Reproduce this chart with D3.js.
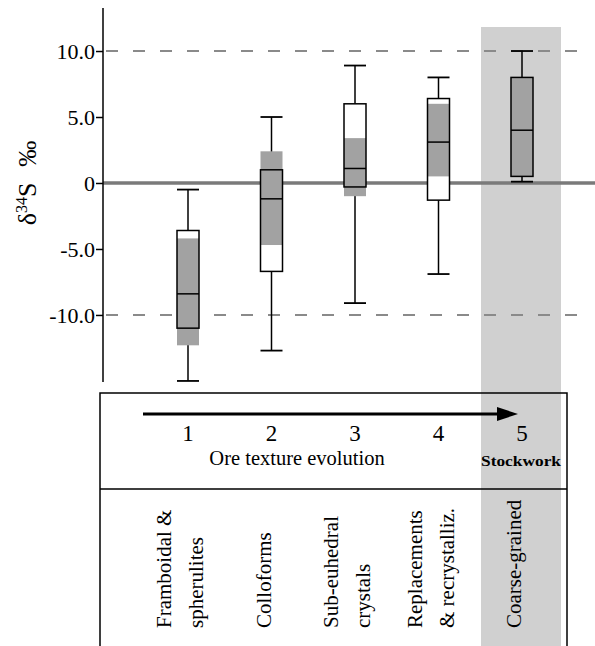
<!DOCTYPE html>
<html>
<head>
<meta charset="utf-8">
<style>
  body { margin: 0; background: #fff; }
  svg text { font-family: "Liberation Serif", "DejaVu Serif", serif; fill: #000; }
</style>
</head>
<body>
<svg class="chart"></svg>
<script src="https://cdn.jsdelivr.net/npm/d3@7/dist/d3.min.js"></script>
<script>
// ore texture stages
const stages = [1, 2, 3, 4, 5]
const whiskerLow = [-15.0, -12.7, -9.1, -6.9, 0.1]
const q1 = [-11.0, -6.7, -0.3, -1.3, 0.5]
const median = [-8.4, -1.2, 1.1, 3.1, 4.0]
const q3 = [-3.6, 1.0, 6.0, 6.4, 8.0]
const whiskerHigh = [-0.5, 5.0, 8.9, 8.0, 10.0]
// shaded (gray) range inside each box
const grayLow = [-12.3, -4.7, -1.0, 0.5, 0.5]
const grayHigh = [-4.2, 2.4, 3.4, 6.0, 8.0]
const yTicks = [-10, -5, 0, 5, 10]
const refLines = [-10, 10]
const textureNames = [
    ["Framboidal &", "spherulites"],
    ["Colloforms"],
    ["Sub-euhedral", "crystals"],
    ["Replacements", "& recrystalliz."],
    ["Coarse-grained"]
]

const width = 595, height = 646
const svg = d3.select(".chart").attr("width", width).attr("height", height)

const axisX = 103
const y = d3.scaleLinear().domain([-15.08, 13.26]).range([382, 8])
const x = d3.scaleLinear().domain([1, 5]).range([188, 522])
const boxW = 22

const data = stages.map((s, i) => ({
    stage: s, lo: whiskerLow[i], q1: q1[i], med: median[i], q3: q3[i], hi: whiskerHigh[i],
    gLo: grayLow[i], gHi: grayHigh[i]
}))

// stockwork band
svg.append("rect")
    .attr("x", 481).attr("y", 27)
    .attr("width", 80).attr("height", height - 27)
    .attr("fill", "#d0d0d0")

// dashed reference lines
svg.append("g").selectAll("line")
    .data(refLines).enter().append("line")
    .attr("x1", axisX + 3).attr("x2", 580)
    .attr("y1", d => y(d)).attr("y2", d => y(d))
    .attr("stroke", "#8a8a8a").attr("stroke-width", 2)
    .attr("stroke-dasharray", "12,15")

// zero line
svg.append("line")
    .attr("x1", axisX).attr("x2", width)
    .attr("y1", y(0)).attr("y2", y(0))
    .attr("stroke", "#7a7a7a").attr("stroke-width", 3.5)

// y axis
const yAxis = svg.append("g")
    .attr("transform", `translate(${axisX},0)`)
    .call(d3.axisLeft(y).tickValues(yTicks).tickSize(7).tickPadding(1)
        .tickFormat(d => d === 0 ? "0" : d.toFixed(1)))
yAxis.select(".domain").attr("d", `M0,${y.range()[0]}V${y.range()[1]}`)
    .attr("stroke", "#000").attr("stroke-width", 1.5)
yAxis.selectAll(".tick line").attr("stroke-width", 1.5)
yAxis.selectAll(".tick text")
    .style("font-family", "Liberation Serif")
    .style("font-size", "22px")

// y label
const yl = svg.append("text")
    .attr("transform", `translate(36,183) rotate(-90)`)
    .attr("text-anchor", "middle")
    .style("font-size", "26px")
yl.append("tspan").text("δ")
yl.append("tspan").attr("dy", -9).style("font-size", "16px").text("34")
yl.append("tspan").attr("dy", 9).text("S")
yl.append("tspan").attr("dx", 16).text("‰")

// boxes
const boxes = svg.append("g").selectAll("g")
    .data(data).enter().append("g")

boxes.append("line")
    .attr("x1", d => x(d.stage)).attr("x2", d => x(d.stage))
    .attr("y1", d => y(d.hi)).attr("y2", d => y(d.q3))
    .attr("stroke", "#000").attr("stroke-width", 1.5)
boxes.append("line")
    .attr("x1", d => x(d.stage)).attr("x2", d => x(d.stage))
    .attr("y1", d => y(d.q1)).attr("y2", d => y(d.lo))
    .attr("stroke", "#000").attr("stroke-width", 1.5)
boxes.selectAll(".cap")
    .data(d => [d.lo, d.hi].map(v => ({ stage: d.stage, v: v })))
    .enter().append("line").attr("class", "cap")
    .attr("x1", d => x(d.stage) - boxW / 2).attr("x2", d => x(d.stage) + boxW / 2)
    .attr("y1", d => y(d.v)).attr("y2", d => y(d.v))
    .attr("stroke", "#000").attr("stroke-width", 1.8)

boxes.append("rect")
    .attr("x", d => x(d.stage) - boxW / 2).attr("width", boxW)
    .attr("y", d => y(d.q3)).attr("height", d => y(d.q1) - y(d.q3))
    .attr("fill", "#fff")
boxes.append("rect")
    .attr("x", d => x(d.stage) - boxW / 2).attr("width", boxW)
    .attr("y", d => y(d.gHi)).attr("height", d => y(d.gLo) - y(d.gHi))
    .attr("fill", "#a2a2a2")
boxes.append("rect")
    .attr("x", d => x(d.stage) - boxW / 2).attr("width", boxW)
    .attr("y", d => y(d.q3)).attr("height", d => y(d.q1) - y(d.q3))
    .attr("fill", "none").attr("stroke", "#000").attr("stroke-width", 1.5)
boxes.append("line")
    .attr("x1", d => x(d.stage) - boxW / 2).attr("x2", d => x(d.stage) + boxW / 2)
    .attr("y1", d => y(d.med)).attr("y2", d => y(d.med))
    .attr("stroke", "#000").attr("stroke-width", 1.5)

// lower table
const tTop = 393, tMid = 489, tLeft = 100, tRight = 567
svg.append("path")
    .attr("d", `M${tLeft},${height}V${tTop}H${tRight}V${height}M${tLeft},${tMid}H${tRight}`)
    .attr("fill", "none").attr("stroke", "#000").attr("stroke-width", 1.5)

// arrow
svg.append("line")
    .attr("x1", 143).attr("x2", 500).attr("y1", 414).attr("y2", 414)
    .attr("stroke", "#000").attr("stroke-width", 3)
svg.append("path")
    .attr("d", "M497,407L518,414L497,421Z").attr("fill", "#000")

svg.append("g").selectAll("text")
    .data(stages).enter().append("text")
    .attr("x", d => x(d)).attr("y", 441)
    .attr("text-anchor", "middle")
    .style("font-size", "23px")
    .text(d => d)

svg.append("text")
    .attr("x", 297).attr("y", 465)
    .attr("text-anchor", "middle")
    .style("font-size", "20.5px")
    .text("Ore texture evolution")
svg.append("text")
    .attr("x", 521).attr("y", 466)
    .attr("text-anchor", "middle")
    .attr("textLength", 80).attr("lengthAdjust", "spacingAndGlyphs")
    .style("font-size", "15px").style("font-weight", "bold")
    .text("Stockwork")

// vertical texture names
const lineGap = 32
const names = svg.append("g").selectAll("g")
    .data(textureNames).enter().append("g")
    .attr("transform", (d, i) => `translate(${x(stages[i]) - (d.length - 1) * lineGap / 2 - 8},628)`)
names.selectAll("text")
    .data(d => d).enter().append("text")
    .attr("transform", (d, j) => `translate(${j * lineGap},0) rotate(-90)`)
    .attr("dy", "0.35em")
    .style("font-size", "21px")
    .text(d => d)
</script>
</body>
</html>
